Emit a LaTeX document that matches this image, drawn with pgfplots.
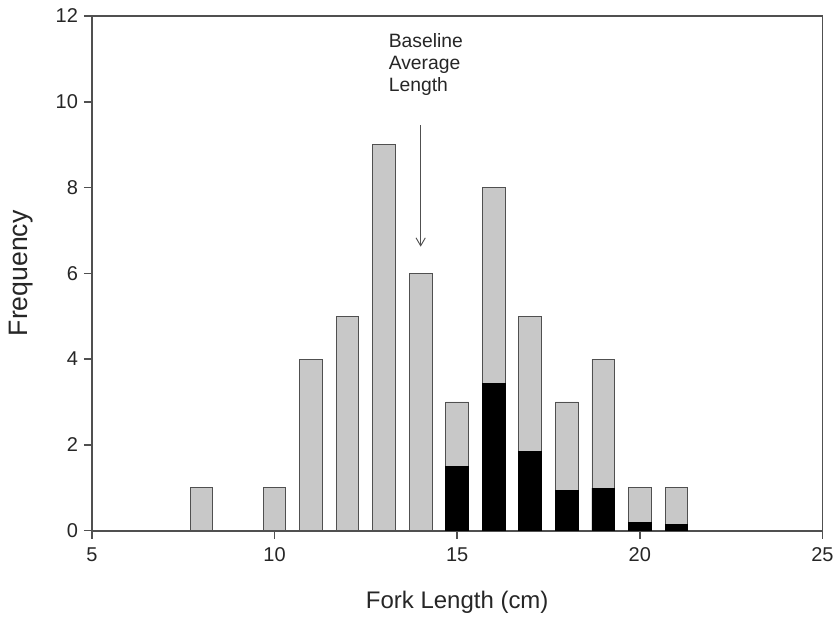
\documentclass[border=0pt]{standalone}
\usepackage{pgfplots}
\pgfplotsset{compat=1.18}
\usepackage{fontspec}
\setmainfont{Liberation Sans}
\usetikzlibrary{arrows.meta}

\definecolor{barfill}{RGB}{200,200,200}
\definecolor{barline}{RGB}{80,80,80}

\begin{document}
\begin{tikzpicture}[x=1pt,y=1pt]
% invisible frame to fix page size (838x620 px at 0.75pt/px)
\path (-69,-66.75) rectangle (559.5,398.25);
\begin{axis}[
    at={(0,0)}, anchor=origin,
    scale only axis,
    width=548.25pt,
    height=386.25pt,
    xmin=5, xmax=25,
    ymin=0, ymax=12,
    xtick={5,10,15,20,25},
    ytick={0,2,4,6,8,10,12},
    tick align=outside,
    xtick pos=bottom,
    ytick pos=left,
    major tick length=6pt,
    tick style={barline, line width=1.2pt},
    axis line style={barline, line width=1.3pt},
    ticklabel style={font=\fontsize{15}{17}\selectfont, text=black!85},
    xticklabel style={yshift=-3pt},
    yticklabel style={xshift=-1pt},
    /pgf/number format/assume math mode=true,
    xlabel={Fork Length (cm)},
    ylabel={Frequency},
    xlabel style={font=\fontsize{18}{20}\selectfont, text=black!85,
        at={(axis description cs:0.5,-0.14)}, anchor=center},
    ylabel style={font=\fontsize{20}{22}\selectfont, text=black!85,
        at={(axis description cs:-0.097,0.5)}, anchor=center},
    ybar,
    bar width=0.62,
    bar shift=0pt,
    clip=false,
]
% total frequency (gray)
\addplot[fill=barfill, draw=barline, line width=0.7pt] coordinates {
    (8,1) (10,1) (11,4) (12,5) (13,9) (14,6) (15,3)
    (16,8) (17,5) (18,3) (19,4) (20,1) (21,1)
};
% black portion
\addplot[fill=black, draw=black, line width=0.7pt] coordinates {
    (15,1.50) (16,3.43) (17,1.85) (18,0.94) (19,0.99) (20,0.19) (21,0.14)
};
\draw[barline, line width=0.7pt, -{Straight Barb[length=6pt,width=7pt]}]
    (axis cs:14,9.45) -- (axis cs:14,6.62);
\node[anchor=north west, align=left, inner sep=0pt,
      font=\fontsize{14.5}{16.5}\selectfont, text=black!85]
    at (axis cs:13.12,11.6) {Baseline\\Average\\Length};
\end{axis}
\end{tikzpicture}
\end{document}
